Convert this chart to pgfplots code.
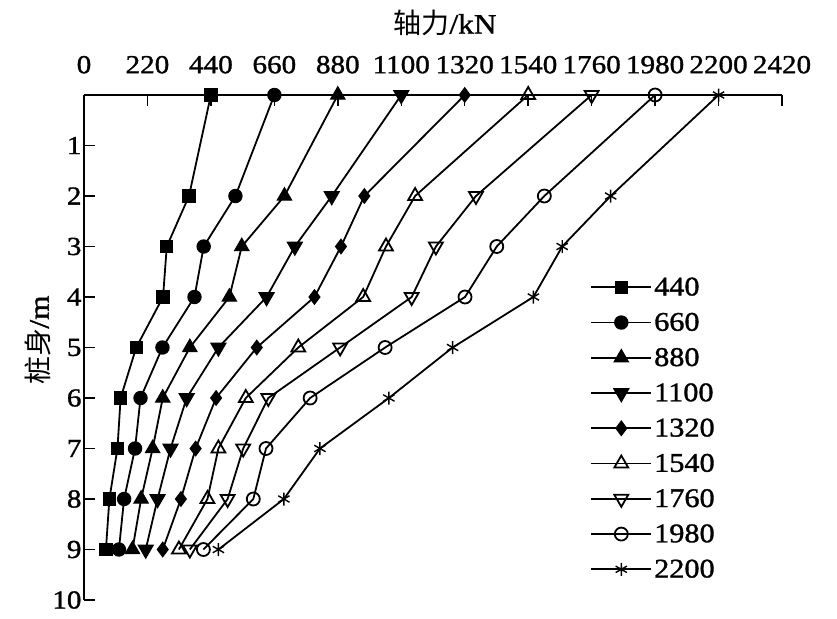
\documentclass[border=0pt]{standalone}
\usepackage{pgfplots}
\pgfplotsset{compat=1.18}
\usepackage{fontspec}
\setmainfont{Liberation Serif}[FakeStretch=1.12, FakeBold=1.2]
\newfontfamily\cjk{Noto Sans CJK SC}
\begin{document}
\begin{tikzpicture}
\begin{axis}[
  name=ax,
  scale only axis,
  width=698pt, height=505pt,
  xmin=0, xmax=2420, ymin=0, ymax=10,
  y dir=reverse,
  axis x line*=top,
  axis y line*=left,
  axis line style={-, line width=1.5pt},
  xtick={0,220,...,2420},
  ytick={1,2,...,10},
  tick align=inside,
  major tick length=11pt,
  tick style={line width=1.5pt, black},
  /pgf/number format/assume math mode=true,
  /pgf/number format/1000 sep={},
  xticklabel style={font=\fontsize{26}{28}\selectfont, yshift=18pt},
  yticklabel style={font=\fontsize{26}{28}\selectfont, xshift=1pt},
  clip=false,
  legend cell align=left,
  legend image code/.code={\draw[mark repeat=2,mark phase=2] plot coordinates {(0pt,0pt) (30pt,0pt) (60pt,0pt)};},
  legend style={at={(axis cs:1755,6.6)}, anchor=west, draw=none, fill=none,
    inner sep=0pt, row sep=11.8pt, font=\fontsize{27}{30}\selectfont,
    nodes={inner sep=2pt}},
  every axis plot/.append style={black, line width=1.8pt, mark options={solid, line width=1.4pt}},
]
\addplot[mark=square*, mark size=6pt] coordinates {
(440,0) (364,2) (287,3) (274,4) (181,5) (127,6) (116,7) (88,8) (76,9)};
\addlegendentry{440}
\addplot[mark=*, mark size=6.5pt] coordinates {
(660,0) (525,2) (415,3) (383,4) (272,5) (196,6) (177,7) (139,8) (121,9)};
\addlegendentry{660}
\addplot[mark=triangle*, mark size=8pt] coordinates {
(880,0) (695,2) (547,3) (504,4) (367,5) (273,6) (238,7) (198,8) (168,9)};
\addlegendentry{880}
\addplot[mark=triangle*, mark size=8pt, mark options={rotate=180}] coordinates {
(1100,0) (859,2) (731,3) (633,4) (466,5) (356,6) (300,7) (255,8) (214,9)};
\addlegendentry{1100}
\addplot[mark=diamond*, mark size=7pt] coordinates {
(1320,0) (972,2) (891,3) (799,4) (599,5) (458,6) (387,7) (336,8) (273,9)};
\addlegendentry{1320}
\addplot[mark=triangle, mark size=8pt, mark options={fill=white}] coordinates {
(1540,0) (1148,2) (1047,3) (968,4) (743,5) (561,6) (466,7) (428,8) (329,9)};
\addlegendentry{1540}
\addplot[mark=triangle, mark size=8pt, mark options={fill=white, rotate=180}] coordinates {
(1760,0) (1359,2) (1220,3) (1136,4) (888,5) (639,6) (552,7) (498,8) (367,9)};
\addlegendentry{1760}
\addplot[mark=o, mark size=6.5pt, mark options={fill=white}] coordinates {
(1980,0) (1596,2) (1431,3) (1321,4) (1044,5) (784,6) (631,7) (587,8) (414,9)};
\addlegendentry{1980}
\addplot[mark=asterisk, mark size=6.5pt] coordinates {
(2200,0) (1826,2) (1658,3) (1558,4) (1278,5) (1057,6) (818,7) (693,8) (466,9)};
\addlegendentry{2200}
\end{axis}
\node[font=\fontsize{28}{30}\selectfont] at ([shift={(361pt,72pt)}]ax.north west) {{\cjk 轴力}/kN};
\node[font=\fontsize{28}{30}\selectfont, rotate=90] at ([shift={(-46pt,-245pt)}]ax.north west) {{\cjk 桩身}/m};
\pgfresetboundingbox
\path[use as bounding box] ([shift={(-84pt,95pt)}]ax.north west) rectangle ([shift={(55pt,-18pt)}]ax.south east);
\end{tikzpicture}
\end{document}
